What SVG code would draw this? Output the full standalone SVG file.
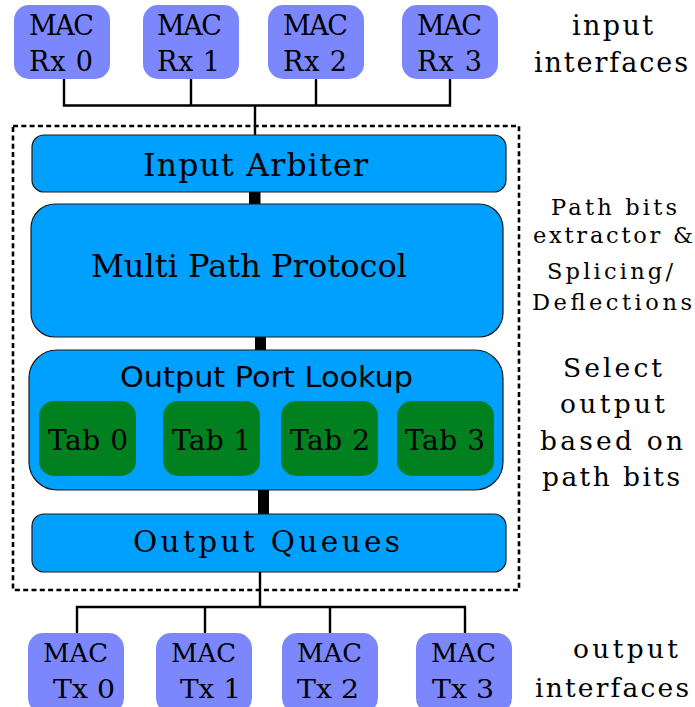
<svg xmlns="http://www.w3.org/2000/svg" width="695" height="707" viewBox="0 0 695 707">
  <style>
    .mac { fill: #7d87fd; }
    .blk { fill: #00a0ff; stroke: #1a1a1a; stroke-width: 1.2; }
    .tab { fill: #00801f; }
    .t { font-family: "DejaVu Serif", "Liberation Serif", serif; fill: #000; }
    .s { font-family: "DejaVu Sans", "Liberation Sans", sans-serif; fill: #000; }
    .wire { stroke: #000; stroke-width: 2.4; fill: none; }
    .bus { fill: #000; }
  </style>

  <!-- dashed boundary of the switch -->
  <rect x="13" y="126" width="506" height="464" fill="none" stroke="#000" stroke-width="2.6" stroke-dasharray="5,3.3"/>

  <!-- connectors -->
  <g id="connectors">
    <path class="wire" d="M64 79V105.5M191 79V105.5M316 79V105.5M450 79V105.5M62.8 105.5H451.2M255 105.5V135"/>
    <rect class="bus" x="249" y="192" width="11.5" height="12"/>
    <rect class="bus" x="255" y="337" width="11" height="13"/>
    <rect class="bus" x="258" y="490" width="11" height="24"/>
    <path class="wire" d="M260 572V607M77 607H466M77 605.8V633M205 607V633M330 607V633M465 607V633"/>
  </g>

  <!-- input MACs -->
  <g id="rx0"><rect class="mac" x="14" y="5" width="96" height="74" rx="15"/>
    <text class="t" x="29" y="35" font-size="27" textLength="65" lengthAdjust="spacing">MAC</text>
    <text class="t" x="29" y="71" font-size="27" textLength="64" lengthAdjust="spacing">Rx 0</text></g>
  <g id="rx1"><rect class="mac" x="143" y="5" width="96" height="74" rx="15"/>
    <text class="t" x="157" y="35" font-size="27" textLength="65" lengthAdjust="spacing">MAC</text>
    <text class="t" x="157" y="71" font-size="27" textLength="63" lengthAdjust="spacing">Rx 1</text></g>
  <g id="rx2"><rect class="mac" x="268" y="5" width="96" height="74" rx="15"/>
    <text class="t" x="283" y="35" font-size="27" textLength="65" lengthAdjust="spacing">MAC</text>
    <text class="t" x="283" y="71" font-size="27" textLength="64" lengthAdjust="spacing">Rx 2</text></g>
  <g id="rx3"><rect class="mac" x="402" y="5" width="96" height="74" rx="15"/>
    <text class="t" x="417" y="35" font-size="27" textLength="65" lengthAdjust="spacing">MAC</text>
    <text class="t" x="417" y="71" font-size="27" textLength="65" lengthAdjust="spacing">Rx 3</text></g>

  <!-- pipeline stages -->
  <g id="input-arbiter"><rect class="blk" x="32" y="135" width="474" height="57" rx="12"/>
    <text class="t" x="143" y="176" font-size="31.5" textLength="225" lengthAdjust="spacing">Input Arbiter</text></g>
  <g id="multi-path-protocol"><rect class="blk" x="31" y="204" width="472" height="133" rx="24"/>
    <text class="t" x="91" y="277" font-size="32" textLength="316" lengthAdjust="spacingAndGlyphs">Multi Path Protocol</text></g>
  <g id="output-port-lookup"><rect class="blk" x="29" y="350" width="474" height="140" rx="28"/>
    <text class="s" x="120" y="387" font-size="28" textLength="293" lengthAdjust="spacingAndGlyphs">Output Port Lookup</text>
    <g id="tab0"><rect class="tab" x="39" y="401" width="97" height="75" rx="15"/>
      <text class="t" x="48" y="450" font-size="28" textLength="80" lengthAdjust="spacing">Tab 0</text></g>
    <g id="tab1"><rect class="tab" x="163" y="401" width="97" height="75" rx="15"/>
      <text class="t" x="172" y="450" font-size="28" textLength="79" lengthAdjust="spacing">Tab 1</text></g>
    <g id="tab2"><rect class="tab" x="281" y="401" width="97" height="75" rx="15"/>
      <text class="t" x="290" y="450" font-size="28" textLength="80" lengthAdjust="spacing">Tab 2</text></g>
    <g id="tab3"><rect class="tab" x="397" y="401" width="97" height="75" rx="15"/>
      <text class="t" x="405" y="450" font-size="28" textLength="80" lengthAdjust="spacing">Tab 3</text></g>
  </g>
  <g id="output-queues"><rect class="blk" x="32" y="514" width="474" height="58" rx="12"/>
    <text class="t" x="133" y="552" font-size="29.5" textLength="267" lengthAdjust="spacing">Output Queues</text></g>

  <!-- output MACs -->
  <g id="tx0"><rect class="mac" x="28" y="633" width="96" height="80" rx="15"/>
    <text class="t" x="43" y="662" font-size="26" textLength="65" lengthAdjust="spacingAndGlyphs">MAC</text>
    <text class="t" x="53" y="698" font-size="26" textLength="62" lengthAdjust="spacingAndGlyphs">Tx 0</text></g>
  <g id="tx1"><rect class="mac" x="156" y="633" width="96" height="80" rx="15"/>
    <text class="t" x="171" y="662" font-size="26" textLength="65" lengthAdjust="spacingAndGlyphs">MAC</text>
    <text class="t" x="180" y="698" font-size="26" textLength="61" lengthAdjust="spacingAndGlyphs">Tx 1</text></g>
  <g id="tx2"><rect class="mac" x="282" y="633" width="96" height="80" rx="15"/>
    <text class="t" x="297" y="662" font-size="26" textLength="65" lengthAdjust="spacingAndGlyphs">MAC</text>
    <text class="t" x="297" y="698" font-size="26" textLength="62" lengthAdjust="spacingAndGlyphs">Tx 2</text></g>
  <g id="tx3"><rect class="mac" x="416" y="633" width="96" height="80" rx="15"/>
    <text class="t" x="431" y="662" font-size="26" textLength="65" lengthAdjust="spacingAndGlyphs">MAC</text>
    <text class="t" x="432" y="698" font-size="26" textLength="62" lengthAdjust="spacingAndGlyphs">Tx 3</text></g>

  <!-- side annotations -->
  <g id="notes">
    <text class="t" x="572" y="35" font-size="27" textLength="81" lengthAdjust="spacing">input</text>
    <text class="t" x="534" y="72" font-size="27" textLength="154" lengthAdjust="spacing">interfaces</text>
    <text class="t" x="551" y="215" font-size="22.5" textLength="126" lengthAdjust="spacing">Path bits</text>
    <text class="t" x="533" y="243" font-size="22.5" textLength="160" lengthAdjust="spacing">extractor &amp;</text>
    <text class="t" x="547" y="279" font-size="22.5" textLength="126" lengthAdjust="spacing">Splicing/</text>
    <text class="t" x="532" y="310" font-size="22.5" textLength="160" lengthAdjust="spacing">Deflections</text>
    <text class="t" x="563" y="377" font-size="26.5" textLength="99" lengthAdjust="spacing">Select</text>
    <text class="t" x="560" y="413" font-size="26.5" textLength="105" lengthAdjust="spacing">output</text>
    <text class="t" x="540" y="450" font-size="26.5" textLength="143" lengthAdjust="spacing">based on</text>
    <text class="t" x="542" y="486" font-size="26.5" textLength="138" lengthAdjust="spacing">path bits</text>
    <text class="t" x="573" y="658" font-size="26.5" textLength="105" lengthAdjust="spacing">output</text>
    <text class="t" x="535" y="697" font-size="26.5" textLength="154" lengthAdjust="spacing">interfaces</text>
  </g>
</svg>
